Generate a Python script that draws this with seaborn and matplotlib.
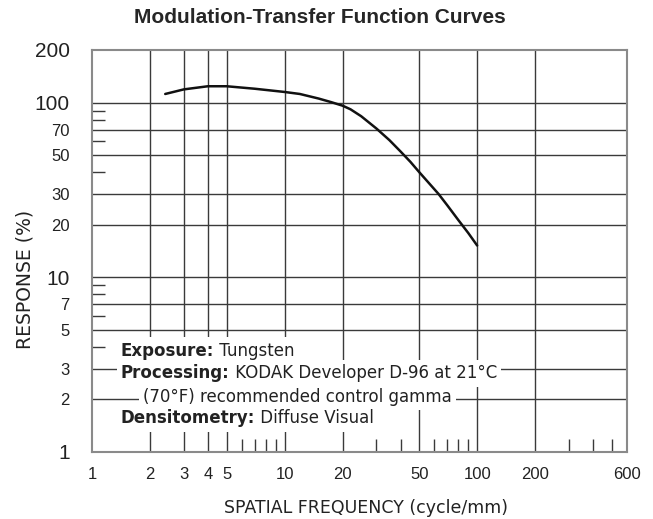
import matplotlib
matplotlib.use("Agg")
import matplotlib.pyplot as plt
import seaborn as sns
import pandas as pd
from matplotlib.ticker import FixedLocator, NullFormatter

# Data
freq = [2.4, 3, 4, 5, 7, 10, 12, 15, 17.5, 20, 22, 25, 30, 35, 40, 45, 50, 63, 70, 80, 90, 100]
response = [112, 119, 124, 124, 120, 115, 112, 105.5, 100.5, 96, 91.5, 83.5, 71, 61, 52.5,
            45.8, 40, 30, 25.8, 21.2, 17.9, 15.2]

x_grid = [2, 3, 4, 5, 10, 20, 50, 100, 200]
x_labels = [1, 2, 3, 4, 5, 10, 20, 50, 100, 200, 600]
x_minor = [6, 7, 8, 9, 30, 40, 60, 70, 80, 90, 300, 400, 500]
y_grid = [2, 3, 5, 7, 10, 20, 30, 50, 70, 100]
y_labels = [1, 2, 3, 5, 7, 10, 20, 30, 50, 70, 100, 200]
y_big = [1, 10, 100, 200]
y_minor = [4, 6, 8, 9, 40, 60, 80, 90]

notes = [
    ("Exposure:", " Tungsten"),
    ("Processing:", " KODAK Developer D-96 at 21°C"),
    (None, "(70°F) recommended control gamma"),
    ("Densitometry:", " Diffuse Visual"),
]

df = pd.DataFrame({"freq": freq, "response": response})

sns.set_style("white")
plt.rcParams["font.family"] = ["Liberation Sans", "DejaVu Sans"]

fig = plt.figure(figsize=(6.53, 5.19), dpi=100)
ax = fig.add_axes([0.1409, 0.1291, 0.8193, 0.7746])

ax.set_xscale("log")
ax.set_yscale("log")
ax.set_xlim(1, 600)
ax.set_ylim(1, 200)

# grid lines
for v in x_grid:
    ax.axvline(v, color="#3a3a3a", lw=1, zorder=1)
for h in y_grid:
    ax.axhline(h, color="#3a3a3a", lw=1, zorder=1)

sns.lineplot(data=df, x="freq", y="response", color="#111111", lw=1.8, ax=ax, zorder=3)

# ticks
ax.xaxis.set_major_locator(FixedLocator(x_labels))
ax.set_xticklabels([str(v) for v in x_labels])
ax.xaxis.set_minor_locator(FixedLocator(x_minor))
ax.xaxis.set_minor_formatter(NullFormatter())
ax.yaxis.set_major_locator(FixedLocator(y_labels))
ax.set_yticklabels([str(v) for v in y_labels])
ax.yaxis.set_minor_locator(FixedLocator(y_minor))
ax.yaxis.set_minor_formatter(NullFormatter())

ax.tick_params(axis="both", which="major", length=0)
ax.tick_params(axis="x", which="major", pad=11, labelsize=12, labelcolor="#222222")
ax.tick_params(axis="y", which="major", pad=16, labelcolor="#222222")
ax.tick_params(axis="both", which="minor", direction="in", length=9.5,
               width=1, color="#3a3a3a")
ax.tick_params(axis="y", which="minor", left=True)
ax.tick_params(axis="x", which="minor", bottom=True)
for lab, v in zip(ax.get_yticklabels(), y_labels):
    lab.set_fontsize(15 if v in y_big else 12)

for s in ax.spines.values():
    s.set_color("#8a8a8a")
    s.set_linewidth(1.5)
    s.set_zorder(4)

ax.set_xlabel("SPATIAL FREQUENCY (cycle/mm)", fontsize=12.5, color="#222222",
              family=["DejaVu Sans"], va="center")
ax.set_ylabel("RESPONSE (%)", fontsize=13.5, color="#222222",
              family=["DejaVu Sans"], va="center")
ax.xaxis.set_label_coords(0.512, -0.139)
ax.yaxis.set_label_coords(-0.125, 0.428)

fig.suptitle("Modulation-Transfer Function Curves", x=0.49, y=0.985,
             fontsize=15, fontweight="bold",
             family=["Liberation Sans Narrow", "Liberation Sans", "DejaVu Sans"])

# annotation block
box = dict(facecolor="white", edgecolor="none", pad=3)
note_font = dict(fontsize=12, family=["DejaVu Sans"], color="#222222", va="baseline")
ys = [0.240, 0.183, 0.125, 0.071]
renderer = fig.canvas.get_renderer()
for (bold, rest), y0 in zip(notes, ys):
    if bold is None:
        ax.text(0.095, y0, rest, transform=ax.transAxes, bbox=box, zorder=5, **note_font)
        continue
    t = ax.text(0.054, y0, bold, transform=ax.transAxes, fontweight="bold",
                bbox=box, zorder=6, **note_font)
    ext = t.get_window_extent(renderer=renderer)
    x1 = ax.transAxes.inverted().transform((ext.x1, ext.y0))[0]
    ax.text(x1, y0, rest, transform=ax.transAxes, bbox=box, zorder=5, **note_font)

fig.savefig("out.png", dpi=100)
